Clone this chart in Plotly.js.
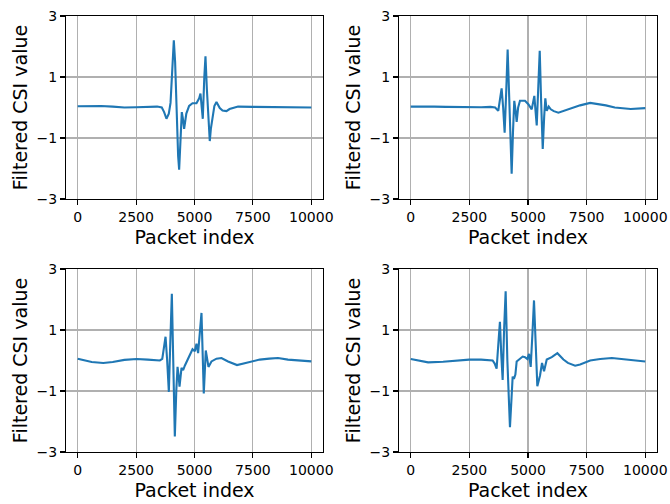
<!DOCTYPE html>
<html>
<head>
<meta charset="utf-8">
<script src="https://cdn.plot.ly/plotly-3.0.1.min.js"></script>
<style>html,body{margin:0;padding:0;background:#fff;}#chart{width:670px;height:504px;}</style>
</head>
<body>
<div id="chart"></div>
<script>
// Panel 1 (top-left)
var p1x = [0,500,1000,1500,2000,2500,3000,3400,3600,3700,3800,3900,3974,4050,4115,4170,4230,4300,4343,4400,4457,4500,4556,4650,4770,4915,5085,5200,5256,5310,5355,5420,5470,5530,5600,5654,5700,5769,5850,5940,6081,6200,6368,6500,6865,7500,8000,8500,9000,9500,10000];
var p1y = [0.04,0.05,0.05,0.03,0.0,0.01,0.02,0.03,0.0,-0.15,-0.37,-0.2,0.15,1.2,2.2,1.5,-0.3,-1.6,-2.04,-1.0,-0.15,-0.35,-0.70,-0.2,0.05,0.14,0.14,0.3,0.46,0.0,-0.37,1.0,1.68,0.6,-0.6,-1.1,-0.7,-0.26,0.05,0.18,-0.02,-0.1,-0.12,-0.05,0.03,0.02,0.02,0.02,0.01,0.01,0.0];
// Panel 2 (top-right)
var p2x = [0,500,1000,1500,2000,2500,3000,3400,3600,3732,3800,3875,3940,4004,4070,4132,4200,4260,4303,4360,4415,4470,4517,4580,4658,4872,5013,5158,5270,5320,5372,5440,5500,5560,5628,5690,5739,5799,5884,5970,6100,6296,6500,6724,7000,7222,7650,8000,8320,8700,9073,9380,10000];
var p2y = [0.03,0.04,0.03,0.02,0.01,0.0,0.01,0.02,0.0,-0.11,0.2,0.63,0.0,-0.83,0.5,1.9,0.3,-1.3,-2.17,-0.8,0.22,-0.1,-0.47,0.0,0.22,0.22,0.11,-0.06,0.38,-0.1,-0.59,0.7,1.86,0.2,-1.36,-0.3,0.3,-0.11,0.03,-0.06,-0.12,-0.17,-0.12,-0.06,0.02,0.07,0.15,0.12,0.07,0.0,-0.03,-0.05,-0.02];
// Panel 3 (bottom-left)
var p3x = [0,300,600,1094,1500,2000,2521,3000,3517,3620,3700,3761,3830,3902,3960,4030,4090,4158,4220,4274,4320,4359,4444,4513,4585,4726,4915,5013,5085,5154,5197,5250,5299,5350,5397,5483,5598,5726,5940,6154,6436,6821,7363,7791,8200,8573,9000,9500,10000];
var p3y = [0.06,0.0,-0.05,-0.08,-0.05,0.02,0.05,0.03,0.0,0.05,0.5,0.78,0.0,-1.03,0.5,2.19,0.0,-2.49,-1.0,-0.21,-0.5,-0.86,-0.24,-0.32,-0.17,0.08,0.37,0.30,0.55,0.24,0.62,1.2,1.56,0.2,-1.08,0.33,-0.21,-0.03,0.06,0.08,-0.03,-0.15,-0.05,0.03,0.06,0.08,0.03,0.0,-0.03];
// Panel 4 (bottom-right)
var p4x = [0,400,741,1380,2000,2493,3000,3491,3580,3662,3740,3803,3860,3919,3980,4047,4120,4231,4300,4346,4400,4462,4517,4658,4774,4872,4970,5043,5115,5190,5256,5330,5398,5513,5598,5684,5799,6013,6253,6510,6700,7009,7222,7650,8077,8577,9000,9500,10000];
var p4y = [0.05,-0.01,-0.06,-0.04,0.0,0.03,0.03,0.0,-0.1,-0.27,0.6,1.27,0.2,-0.64,1.0,2.27,0.0,-2.19,-1.2,-0.53,-0.6,-0.46,-0.03,0.05,0.13,0.11,0.05,0.22,-0.21,0.9,1.97,0.5,-0.84,-0.49,-0.08,-0.35,0.03,0.11,0.24,0.03,-0.08,-0.17,-0.13,0.0,0.05,0.08,0.04,0.0,-0.03];

var xTicks = [0,2500,5000,7500,10000];
var yTicks = [-3,-1,1,3];
var xTitle = 'Packet index';
var yTitle = 'Filtered CSI value';

var lineColor = '#1f77b4';
var series = [[p1x,p1y],[p2x,p2y],[p3x,p3y],[p4x,p4y]];
var traces = series.map(function(s,i){
  var n = i===0 ? '' : String(i+1);
  return {x:s[0], y:s[1], type:'scatter', mode:'lines',
    line:{color:lineColor, width:2.1}, xaxis:'x'+n, yaxis:'y'+n,
    hoverinfo:'skip', showlegend:false};
});

var font = {family:'DejaVu Sans, sans-serif', color:'#000'};
function xa(dom, anchor){
  return {domain:dom, anchor:anchor, range:[-500,10500], tickvals:xTicks,
    ticktext:xTicks.map(String),
    ticks:'outside', ticklen:5, tickwidth:1.1, tickcolor:'#000',
    showline:true, linecolor:'#000', linewidth:1.1, mirror:true,
    showgrid:true, gridcolor:'#b0b0b0', gridwidth:1.1, zeroline:false,
    tickfont:{family:font.family, size:14, color:'#000'},
    title:{text:xTitle, font:{family:font.family, size:19, color:'#000'}, standoff:6},
    automargin:false};
}
function ya(dom, anchor){
  return {domain:dom, anchor:anchor, range:[-3,3], tickvals:yTicks,
    ticks:'outside', ticklen:5, tickwidth:1.1, tickcolor:'#000',
    showline:true, linecolor:'#000', linewidth:1.1, mirror:true,
    showgrid:true, gridcolor:'#b0b0b0', gridwidth:1.1, zeroline:false,
    tickfont:{family:font.family, size:14, color:'#000'},
    title:{text:yTitle, font:{family:font.family, size:19, color:'#000'}, standoff:3},
    automargin:false};
}
var dxL = [66/670, 323/670], dxR = [399/670, 657/670];
var dyT = [1-199/504, 1-16/504], dyB = [1-452/504, 1-269/504];
var layout = {
  width:670, height:504, margin:{l:0,r:0,t:0,b:0},
  paper_bgcolor:'#fff', plot_bgcolor:'#fff', font:font, showlegend:false,
  xaxis:xa(dxL,'y'), yaxis:ya(dyT,'x'),
  xaxis2:xa(dxR,'y2'), yaxis2:ya(dyT,'x2'),
  xaxis3:xa(dxL,'y3'), yaxis3:ya(dyB,'x3'),
  xaxis4:xa(dxR,'y4'), yaxis4:ya(dyB,'x4')
};
Plotly.newPlot('chart', traces, layout, {staticPlot:true, displayModeBar:false});
</script>
</body>
</html>
